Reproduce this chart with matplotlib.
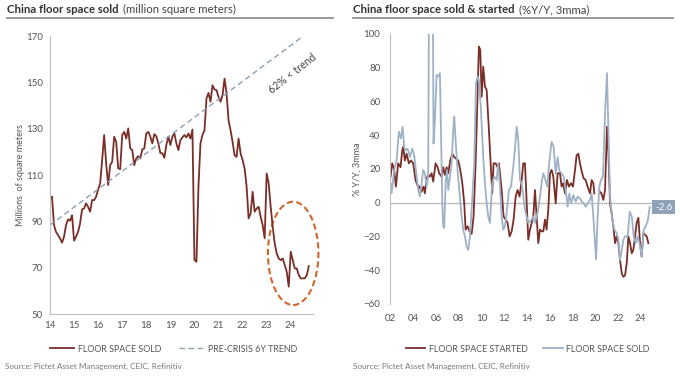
import matplotlib.pyplot as plt
import numpy as np
from matplotlib.patches import Ellipse
import matplotlib.transforms as mtransforms

plt.rcParams['font.family'] = ['Lato', 'DejaVu Sans']

# left panel: floor space sold, monthly from Jan 2014 (million sqm)
sold_start = 2014
sold_vals = [99.9, 100.7, 88.4, 85.5, 84.1, 82.7, 80.8, 83.4, 88.4, 90.9, 90.3, 92.7,
             81.7, 83.4, 85.5, 89.1, 95.2, 95.6, 97.8, 96.3, 94.2, 99.2, 99.2, 100.7,
             103.8, 106.4, 116.5, 127.3, 115.0, 105.7, 114.3, 115.8, 126.6, 124.4, 112.9, 112.6,
             127.3, 128.7, 125.8, 130.2, 121.5, 120.8, 114.3, 117.2, 118.2, 117.2, 121.1, 121.5,
             128.0, 128.7, 126.6, 123.7, 127.7, 126.8, 123.7, 119.6, 119.4, 117.5, 123.0, 126.6,
             123.0, 126.6, 128.0, 123.7, 120.8, 125.1, 126.3, 127.3, 126.3, 128.0, 125.8, 129.7,
             73.3, 72.6, 105.0, 123.7, 127.3, 129.4, 143.1, 145.5, 141.7, 148.8, 147.0, 146.7,
             143.8, 141.7, 144.5, 151.7, 145.3, 133.7, 129.4, 124.4, 118.6, 117.9, 125.8, 119.4,
             116.5, 112.9, 105.0, 91.3, 93.5, 102.8, 94.2, 95.6, 96.3, 92.0, 88.4, 82.7,
             110.7, 106.4, 96.3, 87.7, 80.5, 76.2, 74.0, 73.3, 74.0, 71.2, 68.3, 61.8,
             76.9, 73.3, 69.7, 69.7, 66.8, 65.4, 65.4, 65.4, 66.8, 70.7]
trend_x = [2014.0, 2024.45]
trend_vals = [88.4, 169.5]
left_ticks = list(range(2014, 2025))
left_ticklabels = ['14', '15', '16', '17', '18', '19', '20', '21', '22', '23', '24']

# right panel: %Y/Y 3mma
started_x = [2002.0, 2002.15, 2002.32, 2002.47, 2002.67, 2002.88, 2003.03, 2003.11, 2003.26, 2003.41,
             2003.61, 2003.79, 2003.99, 2004.20, 2004.35, 2004.52, 2004.73, 2004.90, 2005.02, 2005.17,
             2005.31, 2005.46, 2005.61, 2005.75, 2005.96, 2006.14, 2006.28, 2006.49, 2006.63, 2006.78,
             2006.93, 2007.07, 2007.25, 2007.43, 2007.60, 2007.78, 2007.95, 2008.13, 2008.31, 2008.48,
             2008.60, 2008.77, 2008.95, 2009.13, 2009.30, 2009.48, 2009.65, 2009.77, 2009.89, 2010.01,
             2010.15, 2010.30, 2010.45, 2010.65, 2010.83, 2010.94, 2011.06, 2011.24, 2011.41, 2011.53,
             2011.77, 2011.94, 2012.12, 2012.29, 2012.47, 2012.65, 2012.82, 2013.00, 2013.17, 2013.35,
             2013.53, 2013.67, 2013.82, 2013.97, 2014.11, 2014.26, 2014.41, 2014.55, 2014.70, 2014.85,
             2014.99, 2015.14, 2015.28, 2015.43, 2015.58, 2015.72, 2015.87, 2016.02, 2016.16, 2016.31,
             2016.52, 2016.69, 2016.90, 2017.04, 2017.19, 2017.34, 2017.51, 2017.69, 2017.87, 2018.04,
             2018.22, 2018.36, 2018.51, 2018.66, 2018.81, 2018.98, 2019.16, 2019.33, 2019.54, 2019.68,
             2019.83, 2019.92, 2020.10, 2020.39, 2020.54, 2020.71, 2020.86, 2021.03, 2021.15, 2021.30,
             2021.44, 2021.59, 2021.74, 2021.88, 2022.03, 2022.18, 2022.33, 2022.47, 2022.62, 2022.77,
             2022.91, 2023.06, 2023.21, 2023.35, 2023.50, 2023.64, 2023.79, 2023.94, 2024.08, 2024.23,
             2024.37, 2024.52, 2024.67]
started_vals = [15.4, 23.3, 19.4, 9.5, 23.3, 21, 31, 33, 25, 29,
                23.3, 25, 23.3, 13.4, 10.5, 9.5, 6.5, 9.5, 5.5, 14.4,
                16.4, 15.4, 17.4, 12.5, 23.3, 21, 17.4, 15.4, 21, 16.4,
                21, 17.4, 25, 29, 27, 26, 25, 19.4, 11.5, -0.4,
                -16, -14, -17, -18.5, -8.3, 23.3, 64.8, 92.5, 90.5, 62.8,
                80.6, 68.8, 66.8, 43, 19.4, 5.5, 23.3, 23.3, 21, 23.3,
                7.5, -8.3, -10, -12, -20, -17, -10, 3.6, 7.5, 3.6,
                13.4, 23.3, 23.3, -0.4, -22, -16, -12, -8.3, 7.5, -8.3,
                -24, -16, -17, -17, -10, -16, -4.3, 17.4, 19.4, 15.4,
                -0.4, 17.4, 17.4, 9.5, 11.5, 5.5, 13.4, 9.5, 11.5, 9.5,
                19.4, 28, 29, 23.3, 18.4, 14.4, 13.4, 9.5, 5.5, 13.4,
                11.5, 5.5, np.nan, 6.5, 5.5, 1.6, 7.5, 45, 31, -0.4,
                -6.3, -14, -24, -20, -24, -34, -42, -44, -43, -36,
                -20, -24, -30, -28, -20, -12, -9, -24, -32, -18,
                -19, -20, -24]
sold_x = [2002.0, 2002.09, 2002.32, 2002.53, 2002.73, 2002.91, 2003.06, 2003.20, 2003.32, 2003.50,
          2003.70, 2003.91, 2004.08, 2004.29, 2004.43, 2004.58, 2004.73, 2004.87, 2005.02, 2005.17,
          2005.31, 2005.40, 2005.55, 2005.70, 2005.78, 2005.90, 2006.05, 2006.19, 2006.34, 2006.43,
          2006.55, 2006.63, 2006.72, 2006.84, 2006.96, 2007.07, 2007.22, 2007.37, 2007.51, 2007.60,
          2007.72, 2007.89, 2008.10, 2008.25, 2008.39, 2008.54, 2008.69, 2008.83, 2008.98, 2009.18,
          2009.36, 2009.51, 2009.65, 2009.77, 2009.95, 2010.15, 2010.30, 2010.45, 2010.59, 2010.74,
          2010.94, 2011.12, 2011.33, 2011.47, 2011.62, 2011.77, 2011.91, 2012.06, 2012.24, 2012.41,
          2012.59, 2012.79, 2012.94, 2013.09, 2013.23, 2013.38, 2013.53, 2013.82, 2014.11, 2014.41,
          2014.55, 2014.70, 2014.85, 2014.99, 2015.14, 2015.28, 2015.43, 2015.58, 2015.78, 2015.96,
          2016.16, 2016.34, 2016.52, 2016.69, 2016.84, 2017.04, 2017.22, 2017.40, 2017.57, 2017.72,
          2017.87, 2018.07, 2018.28, 2018.45, 2018.66, 2018.81, 2018.98, 2019.16, 2019.33, 2019.54,
          2019.68, 2019.83, 2019.98, 2020.07, 2020.21, 2020.36, 2020.50, 2020.68, 2020.86, 2021.03,
          2021.15, 2021.30, 2021.50, 2021.68, 2021.88, 2022.03, 2022.18, 2022.33, 2022.47, 2022.62,
          2022.85, 2023.03, 2023.21, 2023.38, 2023.56, 2023.73, 2023.94, 2024.08, 2024.26, 2024.44,
          2024.61, 2024.79]
sold_pct = [11.5, 5.5, 19.4, 25, 42, 38, 45, 33, 31, 32,
            27, 32, 28, 15.4, 7.5, 3.6, 11.5, 19.4, 17.4, 9.5,
            15.4, 150, 150, 150, 35, 49, 75.7, 74.7, 76.7, 43,
            -0.4, -14, -15, 11.5, 19.4, 7.5, 15.4, 23.3, 43, 51,
            37, 19.4, 3.6, -8.3, -16, -20, -26, -28, -20, 1.6,
            23.3, 70.8, 74.7, 72.7, 55, 27, 11.5, -0.4, -8.3, -12,
            11.5, 15.4, 13.4, 23.3, 9.5, -8.3, -16, -14, -4.3, 7.5,
            9.5, 21, 32, 45, 37, 13.4, 11.5, -4.3, -12, -10,
            -8, -12, -8, -4, 3.6, 11.5, 17.4, 14.4, 9.5, 24.3,
            36, 33, 17, 27, 19, 17.4, 15.4, 7.5, -2.4, 5.5,
            -0.4, 4.5, 0.6, 3.6, 2.6, 0.6, -0.4, -2.4, -0.4, 1.6,
            5.5, -8.3, -24, -33.6, -8.3, 9.5, 13.4, 15.4, 53, 76.7,
            45, 3.6, -10, -16, -18, -22, -34, -28, -22, -20,
            -20, -5.3, -8.3, -20, -24, -20, -26, -32, -16, -14,
            -11, -2.6]
right_ticks = list(range(2002, 2025, 2))
right_ticklabels = ['02', '04', '06', '08', '10', '12', '14', '16', '18', '20', '22', '24']
last_label = '-2.6'

red = '#7a2e28'
blue = '#9fb1c6'
grey_txt = '#555555'
axis_grey = '#bfbfbf'

fig = plt.figure(figsize=(6.8, 3.77), dpi=100)


def title(x, bold, rest):
    t = fig.text(x, 0.975, bold, fontsize=8.2, fontweight='bold', color='#333333', va='center')
    fig.canvas.draw()
    bb = t.get_window_extent().transformed(fig.transFigure.inverted())
    fig.text(bb.x1 + 0.006, 0.975, rest, fontsize=8.2, color='#444444', va='center')


title(0.010, 'China floor space sold', '(million square meters)')
title(0.519, 'China floor space sold & started', '(%Y/Y, 3mma)')
fig.add_artist(plt.Line2D([0.010, 0.490], [0.953, 0.953], color='#888888', lw=1.2))
fig.add_artist(plt.Line2D([0.519, 0.990], [0.953, 0.953], color='#888888', lw=1.2))

fig.text(0.008, 0.027, 'Source: Pictet Asset Management, CEIC, Refinitiv', fontsize=5.9, color='#777777', va='center')
fig.text(0.519, 0.027, 'Source: Pictet Asset Management, CEIC, Refinitiv', fontsize=5.9, color='#777777', va='center')

# left chart
ax1 = fig.add_axes([0.0735, 0.167, 0.387, 0.737])
months = sold_start + np.arange(len(sold_vals)) / 12
ax1.plot(months, sold_vals, color=red, lw=1.3, label='FLOOR SPACE SOLD')
ax1.plot(trend_x, trend_vals, color='#8d9fb3', lw=1.0, ls=(0, (4, 2.5)), label='PRE-CRISIS 6Y TREND')
ax1.add_patch(Ellipse((2024.1, 76.2), 2.1, 44.6, fill=False, ec='#d2652d', lw=1.5,
                      ls=(0, (3, 1.6)), clip_on=False))
ax1.text(2024.05, 154.0, '62% < trend', rotation=38, fontsize=7.6, color='#444444', ha='center', va='center')
ax1.set_xlim(2014, 2024.93)
ax1.set_ylim(50, 170)
ax1.set_yticks(range(50, 171, 20))
ax1.set_xticks(left_ticks)
ax1.set_xticklabels(left_ticklabels)
ax1.set_ylabel('Millions  of square meters', fontsize=6.5, color=grey_txt, labelpad=1)
for s in ['top', 'right']:
    ax1.spines[s].set_visible(False)
for s in ['left', 'bottom']:
    ax1.spines[s].set_color(axis_grey)
ax1.tick_params(length=0, labelsize=7, colors=grey_txt, pad=5)
ax1.legend(loc='center', bbox_to_anchor=(0.255, 0.074), bbox_transform=fig.transFigure, ncol=2,
           frameon=False, fontsize=6.4, labelcolor=grey_txt, handlelength=2.7, handletextpad=0.5,
           columnspacing=2.0)

# right chart
ax2 = fig.add_axes([0.5735, 0.194, 0.385, 0.716])
ax2.plot(started_x, started_vals, color=red, lw=1.3, label='FLOOR SPACE STARTED')
ax2.plot(sold_x, sold_pct, color=blue, lw=1.3, label='FLOOR SPACE SOLD')
ax2.axhline(0, color=axis_grey, lw=1.0, zorder=0)
ax2.set_xlim(2001.95, 2024.97)
ax2.set_ylim(-60, 100)
ax2.set_yticks(range(-60, 101, 20))
ax2.set_xticks(right_ticks)
ax2.set_xticklabels(right_ticklabels)
ax2.set_ylabel('% Y/Y, 3mma', fontsize=6.5, color=grey_txt, labelpad=1)
for s in ['top', 'right', 'bottom']:
    ax2.spines[s].set_visible(False)
ax2.spines['left'].set_color(axis_grey)
ax2.tick_params(length=0, labelsize=7, colors=grey_txt, pad=7)
trans = mtransforms.blended_transform_factory(ax2.transAxes, ax2.transData)
ax2.text(1.045, sold_pct[-1], last_label, transform=trans, fontsize=7, color='white',
         ha='center', va='center', clip_on=False,
         bbox=dict(boxstyle='square,pad=0.3', fc='#8fa2b8', ec='none'))
ax2.legend(loc='center', bbox_to_anchor=(0.776, 0.074), bbox_transform=fig.transFigure, ncol=2,
           frameon=False, fontsize=6.4, labelcolor=grey_txt, handlelength=2.2, handletextpad=0.4,
           columnspacing=1.7)

fig.savefig('out.png', dpi=100)
